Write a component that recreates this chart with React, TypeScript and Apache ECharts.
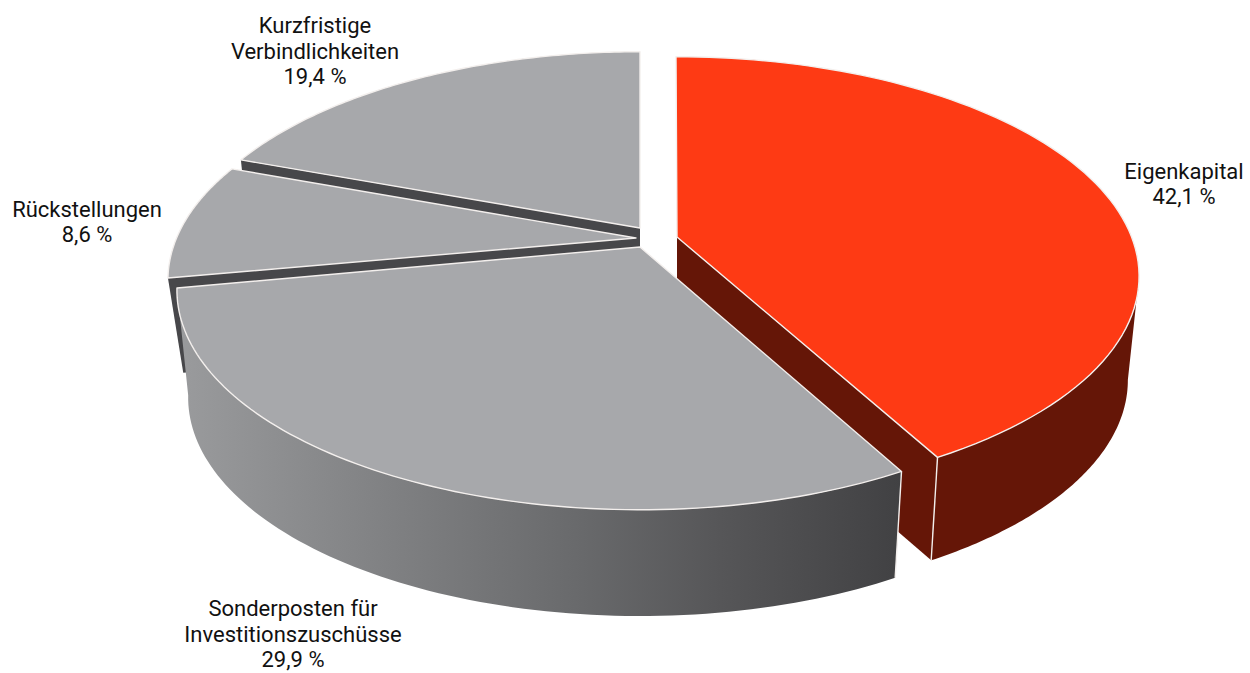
import React, { useEffect, useRef } from "react";
import * as echarts from "echarts";

const categories = ["Eigenkapital", "Sonderposten für\nInvestitionszuschüsse", "Rückstellungen", "Kurzfristige\nVerbindlichkeiten"];
const values = [42.1, 29.9, 8.6, 19.4];
const valueLabels = ["42,1 %", "29,9 %", "8,6 %", "19,4 %"];

const topColors = ["#fe3a14", "#a7a8ab", "#a7a8ab", "#a7a8ab"];
const wallColors = ["#651607", "", "#47474a", "#47474a"];
const centerX = [676, 640, 631, 640];
const centerY = [233, 247, 237, 228];
const tipX = [677, 640, 636, 640];
const tipY = [237, 247, 238, 228];
const drops = [104, 107.5, 95, 95];
const bottomA = [443, 443, 439, 443];
const drawOrder = [3, 2, 0, 1];
const labelX = [1184, 293, 87, 315];
const labelY = [184, 634, 222, 51];

const A = 454, B = 211, P = 0.197, B2 = 210;
const total = values.reduce((s, v) => s + v, 0);
const startAngles: number[] = [];
values.reduce((s, v, i) => { startAngles[i] = s; return s + (v / total) * Math.PI * 2; }, 0);

const top = (i: number, t: number) => {
  const d = 1 + P * Math.cos(t);
  return [centerX[i] + (A * Math.sin(t)) / d, centerY[i] - (B * Math.cos(t)) / d];
};
const bottom = (i: number, t: number) => {
  const d = 1 + P * Math.cos(t);
  return [centerX[i] + (bottomA[i] * Math.sin(t)) / d, centerY[i] + drops[i] - (B2 * Math.cos(t)) / d];
};
const arc = (fn: (i: number, t: number) => number[], i: number, a: number, b: number) => {
  const n = 90;
  return Array.from({ length: n + 1 }, (_, k) => fn(i, a + ((b - a) * k) / n));
};
const edge = { stroke: "#f3efed", lineWidth: 1.4, lineJoin: "round" as const };
const tangent = Math.PI - Math.acos(P);

function renderSlice(_: any, api: any) {
  const i = api.value(0);
  const a = startAngles[i];
  const b = a + (api.value(1) / total) * Math.PI * 2;
  const tip = [tipX[i], tipY[i]];
  const tipLow = [tipX[i], tipY[i] + drops[i]];
  const children: any[] = [];
  const poly = (points: number[][], style: any) =>
    children.push({ type: "polygon", shape: { points }, style });
  const wallFill = i === 1
    ? new echarts.graphic.LinearGradient(0, 0, 1, 0, [
        { offset: 0, color: "#9a9b9d" },
        { offset: 0.3, color: "#7f8082" },
        { offset: 0.55, color: "#696a6c" },
        { offset: 0.75, color: "#565658" },
        { offset: 1, color: "#414143" },
      ])
    : wallColors[i];
  if (i === 0) poly([tip, top(i, b), bottom(i, b), tipLow], { fill: wallFill });
  if (i === 2 || i === 3) poly([tip, top(i, a), bottom(i, a), tipLow], { fill: wallFill });
  if (i === 2) poly([tip, top(i, b), bottom(i, b), tipLow], { fill: wallFill });
  if (i === 0 || i === 1) {
    const from = i === 0 ? tangent : a;
    poly([...arc(top, i, from, b), ...arc(bottom, i, from, b).reverse()], { fill: wallFill });
  }
  if (i === 0) {
    children.push({ type: "polyline", shape: { points: [top(i, b), bottom(i, b)] }, style: { ...edge, fill: "none" } });
  }
  if (i === 1) {
    children.push({ type: "polyline", shape: { points: [top(i, a), bottom(i, a)] }, style: { ...edge, fill: "none" } });
  }
  poly([tip, ...arc(top, i, a, b)], { fill: topColors[i], ...edge });
  return { type: "group", children };
}

export default function App() {
  const ref = useRef<HTMLDivElement>(null);
  useEffect(() => {
    const chart = echarts.init(ref.current!, null, { renderer: "svg" });
    chart.setOption({
      animation: false,
      backgroundColor: "#ffffff",
      series: [
        {
          type: "custom",
          coordinateSystem: "none",
          silent: true,
          renderItem: renderSlice,
          data: drawOrder.map((i) => [i, values[i]]),
        },
      ],
      graphic: categories.map((name, i) => ({
        type: "text",
        x: labelX[i],
        y: labelY[i],
        style: {
          text: `${name}\n${valueLabels[i]}`,
          fill: "#111111",
          font: '22px Roboto',
          lineHeight: 25.5,
          align: "center",
          verticalAlign: "middle",
        },
      })),
    });
    return () => chart.dispose();
  }, []);
  return <div ref={ref} style={{ position: "absolute", left: 0, top: 0, width: 1250, height: 673 }} />;
}
